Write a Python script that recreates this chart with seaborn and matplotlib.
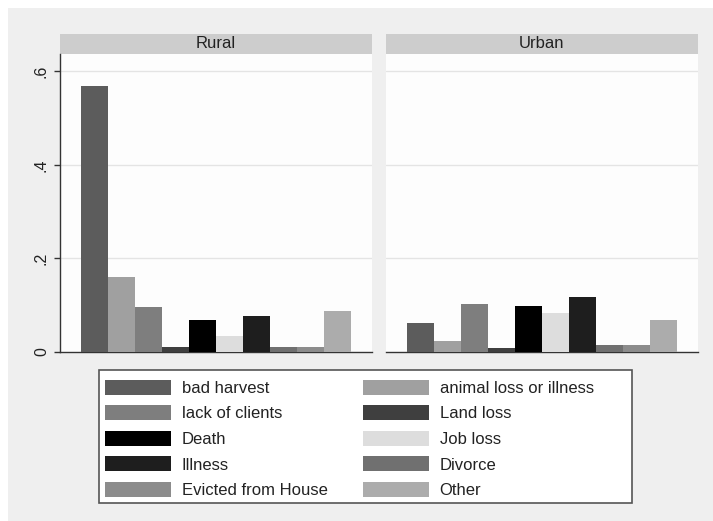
import matplotlib
matplotlib.use("Agg")
import matplotlib.pyplot as plt
from matplotlib.patches import Rectangle, Patch
import numpy as np
import pandas as pd
import seaborn as sns

# ---- data ----
reasons = ["bad harvest", "animal loss or illness", "lack of clients", "Land loss",
           "Death", "Job loss", "Illness", "Divorce", "Evicted from House", "Other"]
rural = [0.568, 0.160, 0.096, 0.010, 0.069, 0.034, 0.076, 0.010, 0.010, 0.088]
urban = [0.062, 0.024, 0.102, 0.008, 0.098, 0.083, 0.117, 0.015, 0.015, 0.069]
areas = ["Rural", "Urban"]
colors = ["#5c5c5c", "#a0a0a0", "#7e7e7e", "#3f3f3f", "#000000",
          "#dddddd", "#1e1e1e", "#707070", "#8c8c8c", "#acacac"]
yticks = [0, 0.2, 0.4, 0.6]
ytick_labels = ["0", ".2", ".4", ".6"]

df = pd.DataFrame({
    "reason": reasons * 2,
    "area": ["Rural"] * len(reasons) + ["Urban"] * len(reasons),
    "share": rural + urban,
})
palette = dict(zip(reasons, colors))

sns.set_theme(style="white")
plt.rcParams["font.family"] = ["Liberation Sans", "DejaVu Sans"]

W, H = 713, 521
fig = plt.figure(figsize=(W / 100, H / 100), dpi=100)
fig.patch.set_facecolor("white")
fig.add_artist(Rectangle((8 / W, 0), 1, (H - 8) / H, transform=fig.transFigure,
                         facecolor="#efefef", edgecolor="none", zorder=-10))

def fx(px):
    return px / W

def fy(py):
    return 1 - py / H

panel_left = [60, 386]
panel_w = 312
top, bottom = 54, 352

for i, area in enumerate(areas):
    ax = fig.add_axes([fx(panel_left[i]), fy(bottom), panel_w / W, (bottom - top) / H])
    ax.set_facecolor("#fdfdfd")
    sub = df[df["area"] == area]
    sns.barplot(data=sub, x="reason", y="share", hue="reason", order=reasons,
                hue_order=reasons, palette=palette, width=1.0, linewidth=0,
                errorbar=None, legend=False, ax=ax, zorder=3)
    ax.set_xlim(-1.275, 10.26)
    ax.set_ylim(0, 0.637)
    ax.set_xlabel("")
    ax.set_ylabel("")
    ax.set_xticks([])
    ax.set_yticks(yticks)
    ax.grid(False)
    for yv in yticks[1:]:
        ax.axhline(yv, color="#e4e4e4", lw=1.0, zorder=1)
    for s in ["top", "right"]:
        ax.spines[s].set_visible(False)
    ax.spines["bottom"].set_color("#333333")
    ax.spines["bottom"].set_linewidth(1.0)
    if i == 0:
        ax.spines["left"].set_color("#333333")
        ax.spines["left"].set_linewidth(1.0)
        ax.set_yticklabels(ytick_labels, rotation=90, va="center", fontsize=11.5,
                           color="#222222")
        ax.tick_params(axis="y", left=True, length=4, width=1, color="#333333", pad=4)
    else:
        ax.spines["left"].set_visible(False)
        ax.set_yticklabels([])
        ax.tick_params(axis="y", left=False)
    # strip
    sh = 20 / (bottom - top)
    ax.add_patch(Rectangle((0, 1 + 0.0), 1, sh, transform=ax.transAxes, clip_on=False,
                           facecolor="#cdcdcd", edgecolor="none"))
    ax.text(0.5, 1 + sh / 2, area, transform=ax.transAxes, ha="center", va="center",
            fontsize=12, color="#222222")

# legend box
fig.add_artist(Rectangle((fx(99), fy(503)), 533 / W, 133 / H, transform=fig.transFigure,
                         facecolor="white", edgecolor="#555555", lw=1.2, zorder=5))
order = reasons[0::2] + reasons[1::2]
handles = [Patch(facecolor=palette[r], edgecolor="none") for r in order]
leg = fig.legend(handles, order, ncol=2, loc="upper left",
                 bbox_to_anchor=(fx(105), fy(379.5)), bbox_transform=fig.transFigure,
                 frameon=False, borderpad=0, borderaxespad=0, fontsize=12,
                 handlelength=3.96, handleheight=1.02, handletextpad=0.64,
                 labelspacing=0.56, columnspacing=2.12)
leg.set_zorder(6)
for t in leg.get_texts():
    t.set_color("#222222")

fig.savefig("out.png", dpi=100, facecolor=fig.get_facecolor())
